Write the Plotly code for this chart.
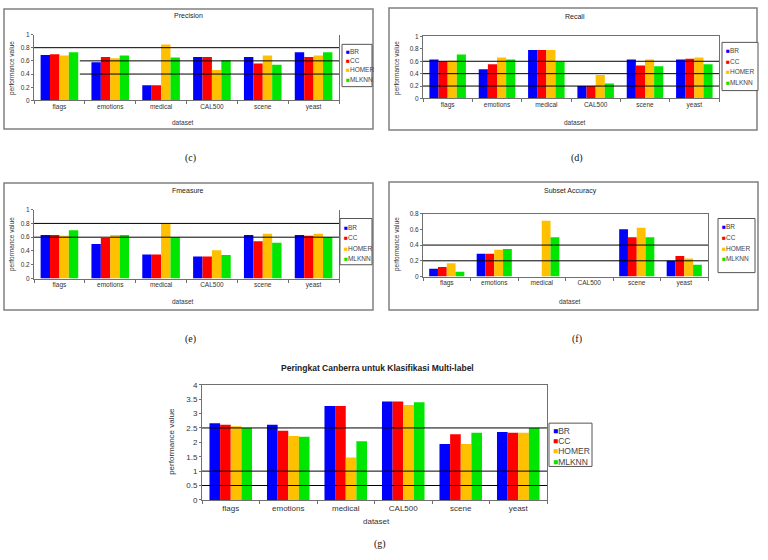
import plotly.graph_objects as go

W, H = 768, 560

datasets = ["flags", "emotions", "medical", "CAL500", "scene", "yeast"]
methods = ["BR", "CC", "HOMER", "MLKNN"]
colors = ["#0000FF", "#FF0000", "#FFC000", "#00E600"]

precision_BR = [0.69, 0.58, 0.23, 0.66, 0.66, 0.73]
precision_CC = [0.70, 0.66, 0.23, 0.66, 0.56, 0.66]
precision_HOMER = [0.68, 0.64, 0.85, 0.46, 0.68, 0.68]
precision_MLKNN = [0.73, 0.68, 0.65, 0.61, 0.54, 0.73]

recall_BR = [0.63, 0.47, 0.78, 0.20, 0.63, 0.63]
recall_CC = [0.60, 0.55, 0.78, 0.20, 0.53, 0.64]
recall_HOMER = [0.61, 0.66, 0.78, 0.38, 0.63, 0.66]
recall_MLKNN = [0.71, 0.63, 0.59, 0.24, 0.52, 0.55]

fmeasure_BR = [0.63, 0.50, 0.35, 0.32, 0.63, 0.63]
fmeasure_CC = [0.63, 0.59, 0.35, 0.32, 0.54, 0.62]
fmeasure_HOMER = [0.62, 0.63, 0.79, 0.41, 0.65, 0.65]
fmeasure_MLKNN = [0.70, 0.63, 0.60, 0.34, 0.52, 0.60]

subset_BR = [0.10, 0.29, 0.0, 0.0, 0.60, 0.20]
subset_CC = [0.12, 0.29, 0.0, 0.0, 0.50, 0.26]
subset_HOMER = [0.17, 0.34, 0.71, 0.0, 0.62, 0.23]
subset_MLKNN = [0.06, 0.35, 0.50, 0.0, 0.50, 0.15]

canberra_BR = [2.66, 2.61, 3.26, 3.42, 1.94, 2.36]
canberra_CC = [2.61, 2.40, 3.26, 3.42, 2.28, 2.33]
canberra_HOMER = [2.56, 2.22, 1.47, 3.30, 1.94, 2.33]
canberra_MLKNN = [2.50, 2.19, 2.04, 3.39, 2.33, 2.50]


def px(x):
    return x / W


def py(y):
    return 1 - y / H


panels = [
    dict(title="Precision", series=[precision_BR, precision_CC, precision_HOMER, precision_MLKNN],
         xd=(34, 339), yd=(98, 31), rng=[0, 1], dtick=0.2, grid=[(0.8, 0), (0.6, 0.15), (0.4, 0.15)],
         topframe=False, box=(4, 5, 373, 127), title_xy=(188, 12), ytitle_xy=(12, 65), xtitle_xy=(183, 120),
         leg_box=(342, 41, 372, 84), leg_x=344, leg_y=[48, 57.5, 67, 76.5], fs=6.5, legfs=6.5,
         caption="(c)", cap_xy=(190, 157)),
    dict(title="Recall", series=[recall_BR, recall_CC, recall_HOMER, recall_MLKNN],
         xd=(423, 719), yd=(96, 33), rng=[0, 1], dtick=0.2, grid=[(0.6, 0), (0.4, 0), (0.2, 0)],
         topframe=True, box=(389, 4, 757, 128), title_xy=(575, 13), ytitle_xy=(397, 65), xtitle_xy=(575, 120),
         leg_box=(722, 39, 758, 88), leg_x=724, leg_y=[47, 58, 69, 80], fs=6.5, legfs=6.5,
         caption="(d)", cap_xy=(577, 157)),
    dict(title="Fmeasure", series=[fmeasure_BR, fmeasure_CC, fmeasure_HOMER, fmeasure_MLKNN],
         xd=(34, 339), yd=(279, 209), rng=[0, 1], dtick=0.2, grid=[(0.8, 0), (0.6, 0)],
         topframe=False, box=(4, 182, 373, 311), title_xy=(188, 190), ytitle_xy=(12, 244), xtitle_xy=(183, 302),
         leg_box=(340, 218, 372, 265), leg_x=342, leg_y=[227, 237.5, 248, 258.5], fs=6.5, legfs=6.5,
         caption="(e)", cap_xy=(190, 340)),
    dict(title="Subset Accuracy", series=[subset_BR, subset_CC, subset_HOMER, subset_MLKNN],
         xd=(423, 708), yd=(277, 213), rng=[0, 0.8], dtick=0.2, grid=[(0.4, 0), (0.2, 0)],
         topframe=True, box=(389, 181, 758, 311), title_xy=(570, 190), ytitle_xy=(397, 244), xtitle_xy=(570, 302),
         leg_box=(718, 218, 755, 273), leg_x=720, leg_y=[226, 237, 248, 259], fs=6.5, legfs=6.5,
         caption="(f)", cap_xy=(577, 340)),
    dict(title="<b>Peringkat Canberra untuk Klasifikasi Multi-label</b>",
         series=[canberra_BR, canberra_CC, canberra_HOMER, canberra_MLKNN],
         xd=(202, 547), yd=(504, 387), rng=[0, 4], dtick=0.5, grid=[(2.5, 0), (1, 0), (0.5, 0)],
         topframe=True, box=None, title_xy=(377, 370), ytitle_xy=(172, 445), xtitle_xy=(376, 526),
         leg_box=(549, 426, 592, 470), leg_x=551, leg_y=[434, 444.5, 454.5, 465], fs=8, legfs=8.5,
         caption="(g)", cap_xy=(380, 549)),
]

fig = go.Figure()
layout = dict(width=W, height=H, margin=dict(l=0, r=0, t=0, b=0),
              paper_bgcolor="white", plot_bgcolor="white", showlegend=False,
              barmode="group", bargap=0.26, bargroupgap=0.0,
              font=dict(family="Liberation Sans, Arial, sans-serif", color="#333333"))
shapes = []
annotations = []

for i, p in enumerate(panels):
    n = "" if i == 0 else str(i + 1)
    xa, ya = "x" + n, "y" + n
    for m, s, c in zip(methods, p["series"], colors):
        fig.add_trace(go.Bar(x=datasets, y=s, name=m, marker=dict(color=c, line=dict(width=0)),
                             xaxis=xa, yaxis=ya))
    layout["xaxis" + n] = dict(domain=[px(p["xd"][0]), px(p["xd"][1])], anchor=ya,
                               showline=True, linecolor="#707070", linewidth=1,
                               mirror=p["topframe"], ticks="outside", ticklen=3, tickcolor="#707070",
                               tickson="boundaries", showgrid=False,
                               tickfont=dict(size=p["fs"], color="#333333"), fixedrange=True)
    layout["yaxis" + n] = dict(domain=[py(p["yd"][0]), py(p["yd"][1])], anchor=xa,
                               range=p["rng"], dtick=p["dtick"], showline=True, linecolor="#707070",
                               linewidth=1, mirror=True, ticks="outside", ticklen=2, tickcolor="#707070",
                               showgrid=False, zeroline=False,
                               tickfont=dict(size=p["fs"], color="#333333"), fixedrange=True)
    for (gv, start) in p["grid"]:
        shapes.append(dict(type="line", xref=xa + " domain", yref=ya, x0=start, x1=1, y0=gv, y1=gv,
                           line=dict(color="#000000", width=1)))
    if p["box"] is not None:
        bx0, by0, bx1, by1 = p["box"]
        shapes.append(dict(type="rect", xref="paper", yref="paper", x0=px(bx0), x1=px(bx1),
                           y0=py(by1), y1=py(by0), line=dict(color="#808080", width=1.5)))
    lx0, ly0, lx1, ly1 = p["leg_box"]
    shapes.append(dict(type="rect", xref="paper", yref="paper", x0=px(lx0), x1=px(lx1),
                       y0=py(ly1), y1=py(ly0), line=dict(color="#555555", width=1),
                       fillcolor="white"))
    for m, c, ly in zip(methods, colors, p["leg_y"]):
        annotations.append(dict(xref="paper", yref="paper", x=px(p["leg_x"]), y=py(ly),
                                xanchor="left", yanchor="middle", showarrow=False,
                                text='<span style="color:%s">■</span>%s' % (c, m),
                                font=dict(size=p["legfs"], color="#444444")))
    annotations.append(dict(xref="paper", yref="paper", x=px(p["title_xy"][0]), y=py(p["title_xy"][1]),
                            xanchor="center", yanchor="middle", showarrow=False, text=p["title"],
                            font=dict(size=p["fs"] + 0.5, color="#222222")))
    annotations.append(dict(xref="paper", yref="paper", x=px(p["ytitle_xy"][0]), y=py(p["ytitle_xy"][1]),
                            xanchor="center", yanchor="middle", showarrow=False, text="performance value",
                            textangle=-90, font=dict(size=p["fs"], color="#333333")))
    annotations.append(dict(xref="paper", yref="paper", x=px(p["xtitle_xy"][0]), y=py(p["xtitle_xy"][1]),
                            xanchor="center", yanchor="middle", showarrow=False, text="dataset",
                            font=dict(size=p["fs"], color="#333333")))
    annotations.append(dict(xref="paper", yref="paper", x=px(p["cap_xy"][0]), y=py(p["cap_xy"][1]),
                            xanchor="center", yanchor="middle", showarrow=False, text=p["caption"],
                            font=dict(size=10, family="Liberation Serif, Times New Roman, serif",
                                      color="#111111")))

layout["shapes"] = shapes
layout["annotations"] = annotations
fig.update_layout(**layout)
fig.write_html("out.html")
